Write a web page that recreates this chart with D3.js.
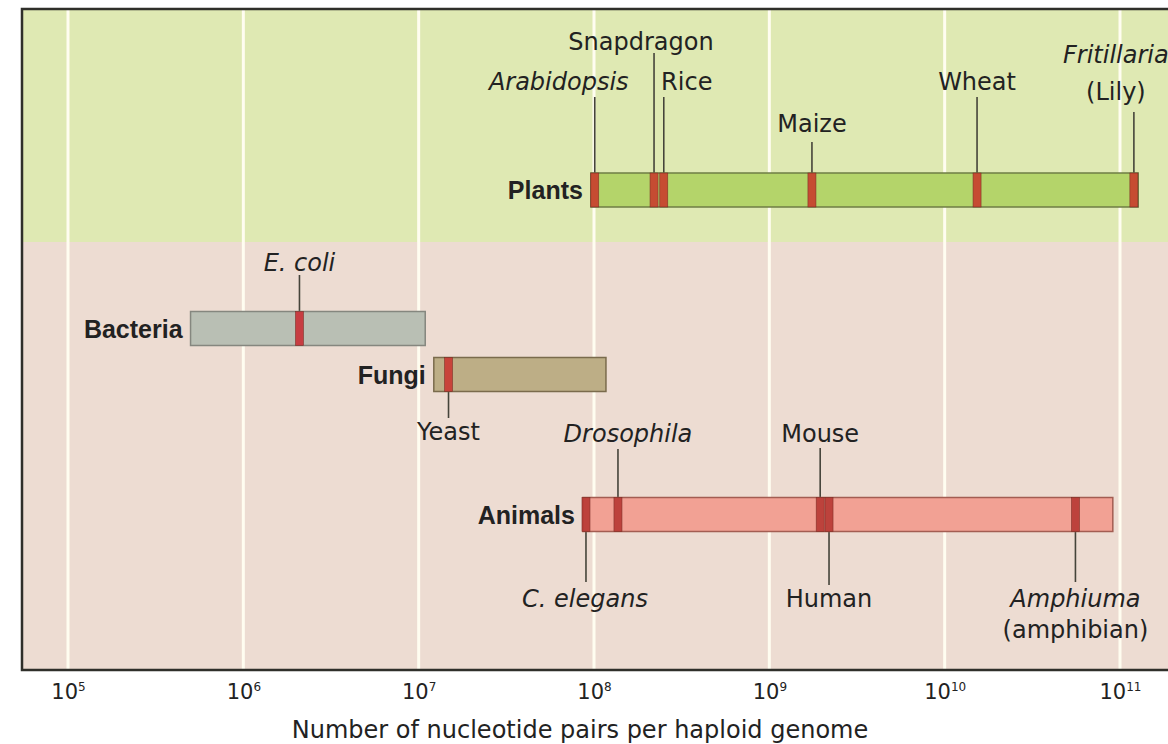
<!DOCTYPE html>
<html>
<head>
<meta charset="utf-8">
<script src="https://cdn.jsdelivr.net/npm/d3@7"></script>
<style>
  body { margin: 0; background: #fff; }
  text { font-family: "DejaVu Sans", sans-serif; fill: #222; }
</style>
</head>
<body>
<div id="wrapper"></div>
<script>
// genome size ranges per group (nucleotide pairs)
const groups = ["Plants", "Bacteria", "Fungi", "Animals"];
const groupMin = [9.6e7, 5.0e5, 1.22e7, 8.65e7];
const groupMax = [1.27e11, 1.09e7, 1.17e8, 9.1e10];

// single organisms marked on the bars
const species = ["Arabidopsis", "Snapdragon", "Rice", "Maize", "Wheat", "Fritillaria",
                 "E. coli", "Yeast", "C. elegans", "Drosophila", "Mouse", "Human", "Amphiuma"];
const speciesGroup = ["Plants", "Plants", "Plants", "Plants", "Plants", "Plants",
                      "Bacteria", "Fungi", "Animals", "Animals", "Animals", "Animals", "Animals"];
const speciesSize = [1.01e8, 2.2e8, 2.5e8, 1.75e9, 1.53e10, 1.2e11,
                     2.09e6, 1.48e7, 9.0e7, 1.37e8, 1.95e9, 2.19e9, 5.57e10];
const speciesNote = { "Fritillaria": "(Lily)", "Amphiuma": "(amphibian)" };
const italicSpecies = ["Arabidopsis", "Fritillaria", "E. coli", "C. elegans", "Drosophila", "Amphiuma"];

const tickValues = [1e5, 1e6, 1e7, 1e8, 1e9, 1e10, 1e11];
const axisTitle = "Number of nucleotide pairs per haploid genome";

function buildPlot() {
    var dimension = {
        width: 1168,
        height: 744,
        frameLeft: 22,
        frameTop: 9,
        frameBottom: 670,
        bandSplit: 242,
        barHeight: 34,
        markerWidth: 8
    };

    // vertical placement of each row and each label (layout only)
    const rowCenter = { Plants: 190, Bacteria: 328.5, Fungi: 374.5, Animals: 514.5 };
    const barStyle = {
        Plants:   { fill: "#b4d46a", stroke: "#6f7d45", mark: "#c8412e" },
        Bacteria: { fill: "#b9bfb4", stroke: "#85877f", mark: "#c93239" },
        Fungi:    { fill: "#bdae86", stroke: "#7a6b4c", mark: "#c93a34" },
        Animals:  { fill: "#f2a194", stroke: "#a35d52", mark: "#b93a35" }
    };
    const labelPos = {
        "Arabidopsis": { base: 90, tip: 97, dx: -36 },
        "Snapdragon":  { base: 50, tip: 53, dx: -13 },
        "Rice":        { base: 90, tip: 97, dx: 23 },
        "Maize":       { base: 132, tip: 142, dx: 0 },
        "Wheat":       { base: 90, tip: 97, dx: 0 },
        "Fritillaria": { base: 63, tip: 112, dx: -18, note: 100 },
        "E. coli":     { base: 271, tip: 275, dx: 0 },
        "Yeast":       { base: 440, tip: 418, dx: 0 },
        "C. elegans":  { base: 607, tip: 582, dx: -1 },
        "Drosophila":  { base: 442, tip: 449, dx: 10 },
        "Mouse":       { base: 442, tip: 448, dx: 0 },
        "Human":       { base: 607, tip: 585, dx: 0 },
        "Amphiuma":    { base: 607, tip: 582, dx: 0, note: 638 }
    };

    const svg = d3.select("#wrapper").append("svg")
        .attr("width", dimension.width)
        .attr("height", dimension.height);

    const xScaler = d3.scaleLog()
        .domain([1e5, 1e11])
        .range([68, 1120]);

    const right = dimension.width + 10;

    // background bands
    svg.append("rect")
        .attr("x", dimension.frameLeft).attr("y", dimension.frameTop)
        .attr("width", right - dimension.frameLeft)
        .attr("height", dimension.bandSplit - dimension.frameTop)
        .attr("fill", "#dfe9b3");
    svg.append("rect")
        .attr("x", dimension.frameLeft).attr("y", dimension.bandSplit)
        .attr("width", right - dimension.frameLeft)
        .attr("height", dimension.frameBottom - dimension.bandSplit)
        .attr("fill", "#eddcd2");

    // white decade lines
    svg.append("g").selectAll("line")
        .data(tickValues)
        .join("line")
        .attr("x1", d => xScaler(d)).attr("x2", d => xScaler(d))
        .attr("y1", dimension.frameTop).attr("y2", dimension.frameBottom)
        .attr("stroke", "#fffdf0")
        .attr("stroke-width", 3);

    // frame
    svg.append("path")
        .attr("d", `M${right},${dimension.frameTop} H${dimension.frameLeft} V${dimension.frameBottom} H${right}`)
        .attr("fill", "none")
        .attr("stroke", "#2f2f2a")
        .attr("stroke-width", 2.5);

    // leader lines
    const leaders = svg.append("g");
    species.forEach((s, i) => {
        const g = speciesGroup[i];
        const x = xScaler(speciesSize[i]);
        const p = labelPos[s];
        const up = p.tip < rowCenter[g];
        const barEdge = up ? rowCenter[g] - dimension.barHeight / 2 : rowCenter[g] + dimension.barHeight / 2;
        leaders.append("line")
            .attr("x1", x).attr("x2", x)
            .attr("y1", p.tip).attr("y2", barEdge)
            .attr("stroke", "#45443a")
            .attr("stroke-width", 1.6);
    });

    // group bars
    const bars = svg.append("g");
    groups.forEach((g, i) => {
        bars.append("rect")
            .attr("x", xScaler(groupMin[i]))
            .attr("y", rowCenter[g] - dimension.barHeight / 2)
            .attr("width", xScaler(groupMax[i]) - xScaler(groupMin[i]))
            .attr("height", dimension.barHeight)
            .attr("fill", barStyle[g].fill)
            .attr("stroke", barStyle[g].stroke)
            .attr("stroke-width", 1.5);

        svg.append("text")
            .attr("x", xScaler(groupMin[i]) - 8)
            .attr("y", rowCenter[g] + 9)
            .attr("text-anchor", "end")
            .style("font-family", "'Liberation Sans', Arial, sans-serif")
            .style("font-weight", "bold")
            .style("font-size", "25px")
            .text(g);
    });

    // species markers
    species.forEach((s, i) => {
        const g = speciesGroup[i];
        bars.append("rect")
            .attr("x", xScaler(speciesSize[i]) - dimension.markerWidth / 2)
            .attr("y", rowCenter[g] - dimension.barHeight / 2)
            .attr("width", dimension.markerWidth)
            .attr("height", dimension.barHeight)
            .attr("fill", barStyle[g].mark)
            .attr("stroke", "#7a2a22")
            .attr("stroke-width", 0.6)
            .attr("opacity", 0.92);
    });

    // species labels
    const labels = svg.append("g")
        .style("font-size", "24px")
        .attr("text-anchor", "middle");
    species.forEach((s, i) => {
        const p = labelPos[s];
        const x = xScaler(speciesSize[i]) + p.dx;
        labels.append("text")
            .attr("x", x)
            .attr("y", p.base)
            .style("font-style", italicSpecies.includes(s) ? "italic" : "normal")
            .text(s);
        if (speciesNote[s]) {
            labels.append("text")
                .attr("x", x)
                .attr("y", p.note)
                .text(speciesNote[s]);
        }
    });

    // x axis with 10^n labels
    const xAxis = svg.append("g")
        .attr("transform", `translate(0, ${dimension.frameBottom})`)
        .call(d3.axisBottom(xScaler).tickValues(tickValues).tickSize(0).tickFormat(""));
    xAxis.select(".domain").remove();
    xAxis.selectAll(".tick text").remove();
    xAxis.selectAll(".tick")
        .append("text")
        .attr("y", 29)
        .attr("text-anchor", "middle")
        .style("font-size", "21px")
        .style("fill", "#222")
        .each(function (d) {
            const t = d3.select(this);
            t.append("tspan").text("10");
            t.append("tspan")
                .attr("dy", -8)
                .style("font-size", "12px")
                .text(Math.round(Math.log10(d)));
        });

    svg.append("text")
        .attr("x", 580)
        .attr("y", 738)
        .attr("text-anchor", "middle")
        .style("font-size", "24px")
        .text(axisTitle);
}

buildPlot();
</script>
</body>
</html>
